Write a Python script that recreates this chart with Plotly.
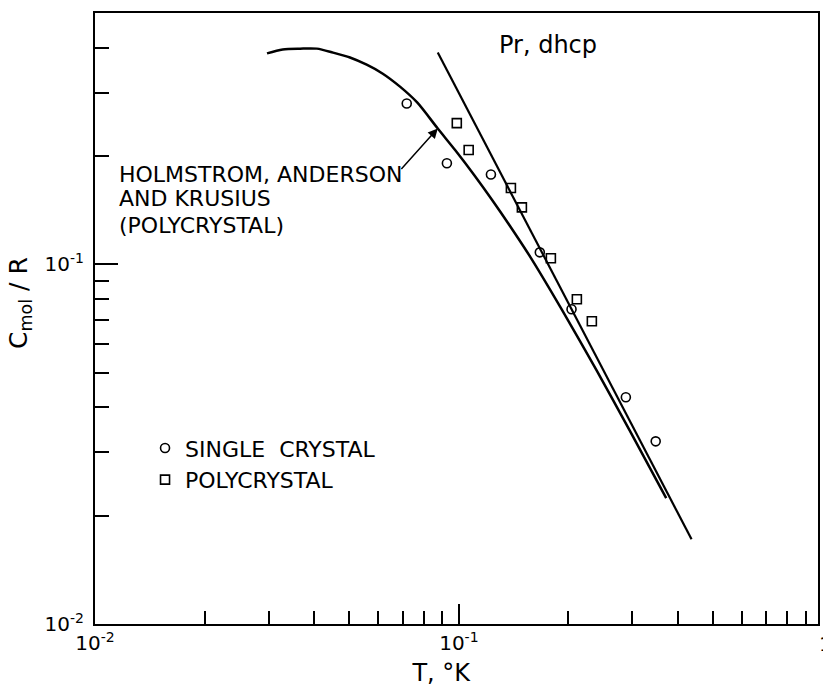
import numpy as np
import plotly.graph_objects as go

# Holmstrom, Anderson and Krusius (polycrystal) curve
curve_T = [0.0297, 0.0328, 0.0366, 0.0407, 0.0451, 0.0502, 0.0558, 0.0618, 0.0689, 0.0768,
           0.0875, 0.0979, 0.1104, 0.1237, 0.1379, 0.1574, 0.1924, 0.2389, 0.2944, 0.3714]
curve_C = [0.386, 0.396, 0.398, 0.398, 0.388, 0.376, 0.359, 0.339, 0.312, 0.282,
           0.2386, 0.2073, 0.1767, 0.1506, 0.1283, 0.1046, 0.0745, 0.0508, 0.0346, 0.0224]

# straight T^-2 line
line_T = [0.0875, 0.436]
line_C = [0.388, 0.0172]

# data points
single_T = [0.0719, 0.0927, 0.1225, 0.1669, 0.204, 0.2877, 0.3475]
single_C = [0.280, 0.191, 0.1778, 0.108, 0.075, 0.0427, 0.0322]
poly_T = [0.0987, 0.1064, 0.139, 0.149, 0.179, 0.211, 0.232]
poly_C = [0.247, 0.208, 0.163, 0.144, 0.104, 0.080, 0.0695]

# ticks
x_major = [0.01, 0.1]
x_major_text = ["10<sup>-2</sup>", "10<sup>-1</sup>"]
x_minor = [k * 0.01 for k in range(2, 10)] + [k * 0.1 for k in range(2, 10)]
y_major = [0.01, 0.1]
y_major_text = ["10<sup>-2</sup>", "10<sup>-1</sup>"]
y_minor = [k * 0.01 for k in range(2, 10)] + [0.2, 0.3, 0.4]

FONT = "DejaVu Sans"

fig = go.Figure()
fig.add_trace(go.Scatter(x=curve_T, y=curve_C, mode="lines",
                         line=dict(color="black", width=2.5, shape="spline", smoothing=0.8),
                         showlegend=False, name="Holmstrom"))
fig.add_trace(go.Scatter(x=line_T, y=line_C, mode="lines", line=dict(color="black", width=2.2),
                         showlegend=False, name="T^-2"))
fig.add_trace(go.Scatter(x=single_T, y=single_C, mode="markers", name="SINGLE&nbsp; CRYSTAL",
                         marker=dict(symbol="circle-open", size=9, color="black", line=dict(width=1.6))))
fig.add_trace(go.Scatter(x=poly_T, y=poly_C, mode="markers", name="POLYCRYSTAL",
                         marker=dict(symbol="square-open", size=9, color="black", line=dict(width=1.6))))

axis_common = dict(type="log", showline=True, linewidth=2, linecolor="black", mirror=True,
                   ticks="inside", tickwidth=1.5, tickcolor="black", showgrid=False, zeroline=False,
                   tickfont=dict(family=FONT, size=20, color="black"), automargin=False)

fig.update_xaxes(**axis_common, range=[-2, -0.013], tickmode="array", tickvals=x_major, ticktext=x_major_text,
                 ticklen=20,
                 minor=dict(tickmode="array", tickvals=x_minor, ticks="inside", ticklen=13, tickwidth=1.5,
                            tickcolor="black", showgrid=False),
                 title=dict(text="T, °K&nbsp;&nbsp;&nbsp;&nbsp;", font=dict(family=FONT, size=24, color="black"),
                            standoff=20))
fig.update_yaxes(**axis_common, range=[-2, np.log10(0.5)], tickmode="array", tickvals=y_major, ticktext=y_major_text,
                 ticklen=23, ticklabelstandoff=5,
                 minor=dict(tickmode="array", tickvals=y_minor, ticks="inside", ticklen=14, tickwidth=1.5,
                            tickcolor="black", showgrid=False))

# y-axis title
fig.add_annotation(x=-0.1037, xref="paper", y=0.5254, yref="paper", xanchor="center", yanchor="middle",
                   textangle=-90, text="C<sub>mol</sub> / R", showarrow=False,
                   font=dict(family=FONT, size=25, color="black"))
# the "1" tick label at the cut right edge
fig.add_annotation(x=1.011, xref="paper", y=0, yref="paper", xanchor="center", yanchor="top", yshift=-6,
                   text="1", showarrow=False, font=dict(family=FONT, size=20, color="black"))
fig.add_annotation(x=0.626, xref="paper", y=0.9476, yref="paper", xanchor="center", yanchor="middle",
                   text="Pr, dhcp", showarrow=False, font=dict(family=FONT, size=24, color="black"))
label_lines = ["HOLMSTROM, ANDERSON", "AND KRUSIUS", "(POLYCRYSTAL)"]
label_y = [0.7349, 0.6972, 0.6514]
for txt, yy in zip(label_lines, label_y):
    fig.add_annotation(x=0.031, xref="paper", y=yy, yref="paper", xanchor="left", yanchor="middle",
                       align="left", text=txt, showarrow=False,
                       font=dict(family=FONT, size=22, color="black"))
fig.add_annotation(x=np.log10(0.0875), y=np.log10(0.2387), xref="x", yref="y",
                   ax=np.log10(0.0689), ay=np.log10(0.1824), axref="x", ayref="y",
                   text="", showarrow=True, arrowhead=2, arrowsize=1.3, arrowwidth=1.5, arrowcolor="black")

fig.update_layout(width=823, height=687, margin=dict(l=95, r=5, t=13, b=63),
                  paper_bgcolor="white", plot_bgcolor="white",
                  font=dict(family=FONT, color="black"),
                  legend=dict(x=0.0692, y=0.322, xanchor="left", yanchor="top", bgcolor="rgba(0,0,0,0)",
                              font=dict(family=FONT, size=22, color="black"), itemwidth=30))

fig.write_html("out.html")
